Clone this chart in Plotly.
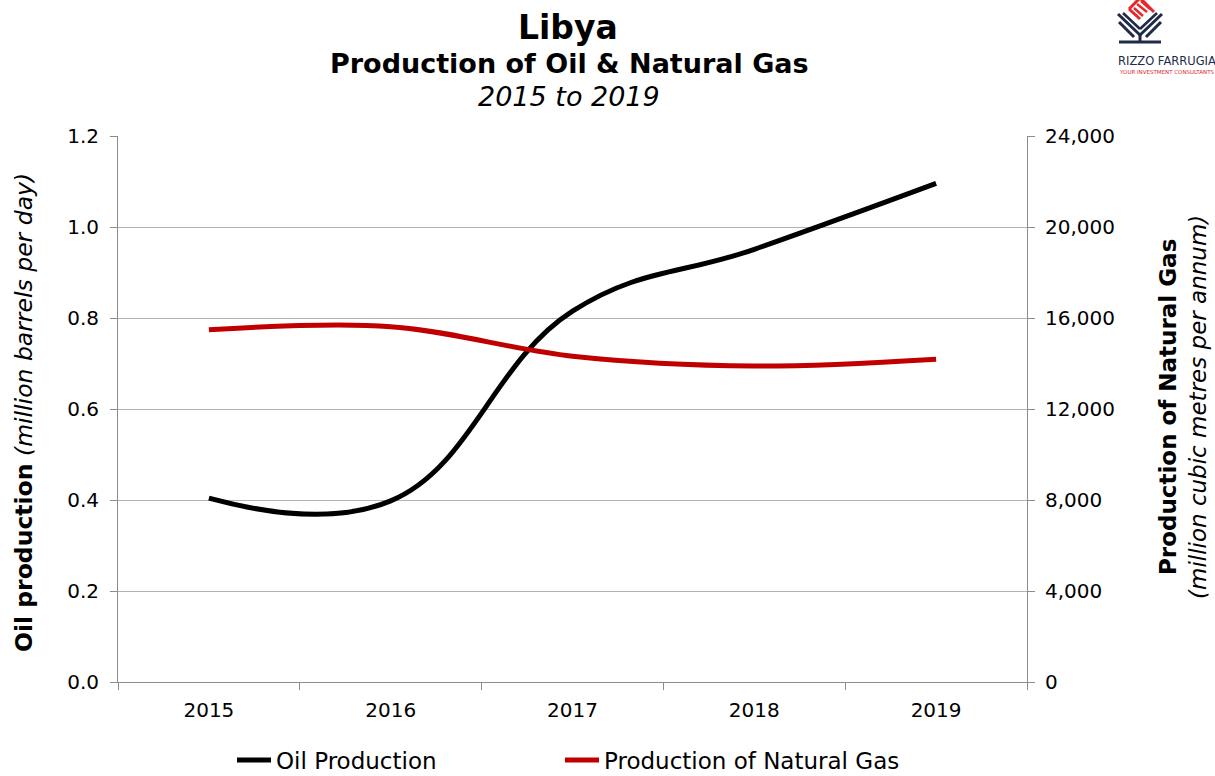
import plotly.graph_objects as go

# ---- data ----
years = ["2015", "2016", "2017", "2018", "2019"]
oil_production = [0.404, 0.398, 0.815, 0.951, 1.096]          # million barrels per day
gas_production = [15480, 15620, 14320, 13890, 14190]          # million cubic metres per annum
left_ticks = [0.0, 0.2, 0.4, 0.6, 0.8, 1.0, 1.2]
right_ticks = [0, 4000, 8000, 12000, 16000, 20000, 24000]

W, H = 1215, 776
L, R, T, B = 118, 1027, 136, 682
FONT = "DejaVu Sans"


def px(x):
    return (x - L) / (R - L)


def py(y):
    return (B - y) / (B - T)


fig = go.Figure()
fig.add_trace(go.Scatter(
    x=years, y=oil_production, name="Oil Production", mode="lines",
    line=dict(color="#000000", width=5, shape="spline", smoothing=1.2),
    yaxis="y", legend="legend"))
fig.add_trace(go.Scatter(
    x=years, y=gas_production, name="Production of Natural Gas", mode="lines",
    line=dict(color="#c00000", width=5, shape="spline", smoothing=1.0),
    yaxis="y2", legend="legend2"))

axis_grey = "#8c8c8c"
grid_grey = "#b3b3b3"

legend_common = dict(orientation="h", xanchor="left", yanchor="middle",
                     font=dict(family=FONT, size=23, color="#000000"),
                     itemwidth=34, bgcolor="rgba(0,0,0,0)")

fig.update_layout(
    width=W, height=H,
    margin=dict(l=L, r=W - R, t=T, b=H - B, autoexpand=False),
    paper_bgcolor="white", plot_bgcolor="white",
    font=dict(family=FONT, color="#000000", size=20),
    showlegend=True,
    legend=dict(x=px(232), y=py(760), **legend_common),
    legend2=dict(x=px(560), y=py(760), **legend_common),
    xaxis=dict(type="category", range=[-0.5, 4.5], showline=True, linecolor=axis_grey, linewidth=1,
               ticks="outside", tickson="boundaries", ticklen=7, tickcolor=axis_grey,
               showgrid=False, tickfont=dict(size=20, family=FONT), ticklabelstandoff=10),
    yaxis=dict(range=[0, 1.2], tickvals=left_ticks, tickformat=".1f",
               showline=True, linecolor=axis_grey, linewidth=1,
               ticks="outside", ticklen=7, tickcolor=axis_grey,
               showgrid=True, gridcolor=grid_grey, gridwidth=1,
               zeroline=False, tickfont=dict(size=20, family=FONT), ticklabelstandoff=7),
    yaxis2=dict(range=[0, 24000], tickvals=right_ticks, tickformat=",",
                overlaying="y", side="right",
                showline=True, linecolor=axis_grey, linewidth=1,
                ticks="outside", ticklen=7, tickcolor=axis_grey,
                showgrid=False, zeroline=False, tickfont=dict(size=20, family=FONT),
                ticklabelstandoff=6),
)

ann = []
# titles
ann.append(dict(text="<b>Libya</b>", x=px(568), y=py(27), xref="paper", yref="paper",
                showarrow=False, font=dict(size=33, family=FONT), xanchor="center", yanchor="middle"))
ann.append(dict(text="<b>Production of Oil & Natural Gas</b>", x=px(569), y=py(63), xref="paper",
                yref="paper", showarrow=False, font=dict(size=27, family=FONT),
                xanchor="center", yanchor="middle"))
ann.append(dict(text="<i>2015 to 2019</i>", x=px(569), y=py(96), xref="paper", yref="paper",
                showarrow=False, font=dict(size=27, family=FONT), xanchor="center", yanchor="middle"))
# axis titles
ann.append(dict(text="<b>Oil production</b> <i>(million barrels per day)</i>", x=px(24), y=py(413),
                xref="paper", yref="paper", showarrow=False, textangle=-90,
                font=dict(size=23.5, family=FONT), xanchor="center", yanchor="middle"))
ann.append(dict(text="<b>Production of Natural Gas</b>", x=px(1168), y=py(407),
                xref="paper", yref="paper", showarrow=False, textangle=-90,
                font=dict(size=23, family=FONT), xanchor="center", yanchor="middle"))
ann.append(dict(text="<i>(million cubic metres per annum)</i>", x=px(1198), y=py(407),
                xref="paper", yref="paper", showarrow=False, textangle=-90,
                font=dict(size=23, family=FONT), xanchor="center", yanchor="middle"))
# logo text
ann.append(dict(text="RIZZO FARRUGIA", x=px(1116), y=py(61), xref="paper", yref="paper",
                showarrow=False,
                font=dict(size=11.5, family=FONT, color="#1f2a48"),
                xanchor="left", yanchor="middle"))
ann.append(dict(text="YOUR INVESTMENT CONSULTANTS", x=px(1117), y=py(72), xref="paper", yref="paper",
                showarrow=False,
                font=dict(size=5.5, family=FONT, color="#e0262b"),
                xanchor="left", yanchor="middle"))
fig.update_layout(annotations=ann)

# logo icon
navy = "#1f2a48"
red = "#e8262b"
shapes = []


def seg(x0, y0, x1, y1, color, w):
    shapes.append(dict(type="line", xref="paper", yref="paper", x0=px(x0), y0=py(y0),
                       x1=px(x1), y1=py(y1), line=dict(color=color, width=w)))


# red diamond with stripes
seg(1129, 9, 1140, -2, red, 3)
seg(1140, -2, 1154, 12, red, 3)
seg(1129, 9, 1140, 19, red, 3)
seg(1134, 8, 1143, 16, red, 2.5)
seg(1137, 4, 1147, 12, red, 2.5)
seg(1141, 1, 1150, 9, red, 2.5)
# navy chevrons
seg(1118, 14, 1140, 35, navy, 3)
seg(1140, 35, 1162, 14, navy, 3)
seg(1123, 13, 1140, 29, navy, 2.5)
seg(1140, 29, 1157, 13, navy, 2.5)
seg(1119, 22, 1134, 37, navy, 3)
seg(1146, 37, 1161, 22, navy, 3)
seg(1140, 34, 1140, 42, navy, 3)
seg(1119, 42, 1161, 42, navy, 3)
fig.update_layout(shapes=shapes)

fig.write_html("out.html", config={"displayModeBar": False},
               post_script="document.body.style.margin='0';document.body.style.overflow='hidden';")
